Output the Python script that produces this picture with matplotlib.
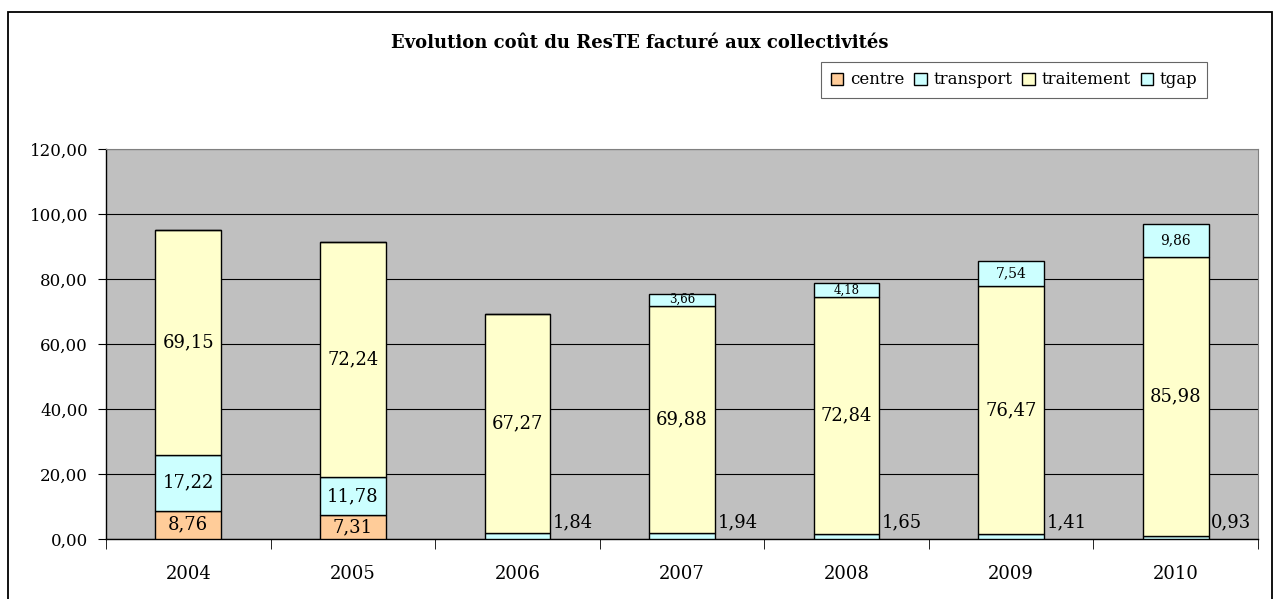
import matplotlib
matplotlib.use("Agg")
import matplotlib.pyplot as plt
from matplotlib.patches import Rectangle, Patch
import numpy as np

years = ["2004", "2005", "2006", "2007", "2008", "2009", "2010"]
centre = [8.76, 7.31, 0, 0, 0, 0, 0]
transport = [17.22, 11.78, 1.84, 1.94, 1.65, 1.41, 0.93]
traitement = [69.15, 72.24, 67.27, 69.88, 72.84, 76.47, 85.98]
tgap = [0, 0, 0, 3.66, 4.18, 7.54, 9.86]

series_names = ["centre", "transport", "traitement", "tgap"]
colors = ["#FFCC99", "#CCFFFF", "#FFFFCC", "#CCFFFF"]

plt.rcParams["font.family"] = ["DejaVu Serif"]

fig = plt.figure(figsize=(12.79, 5.99), dpi=100)
ax = fig.add_axes([106 / 1279, 1 - 539 / 599, 1152 / 1279, 390 / 599])
ax.set_facecolor("#C0C0C0")

# outer chart frame
fig.patches.append(Rectangle((8 / 1279, -0.1), 1264 / 1279, 1.1 - 12 / 599,
                             transform=fig.transFigure, fill=False,
                             edgecolor="black", linewidth=1.3))

x = np.arange(len(years))
width = 0.4
bottom = np.zeros(len(years))
all_series = [centre, transport, traitement, tgap]
for name, vals, col in zip(series_names, all_series, colors):
    vals = np.array(vals)
    ax.bar(x, vals, width, bottom=bottom, color=col, edgecolor="black",
           linewidth=1.0, label=name, zorder=3)
    for i, v in enumerate(vals):
        if v == 0:
            continue
        txt = f"{v:.2f}".replace(".", ",")
        if name == "transport" and v < 5:
            # small segments: label beside the bar
            ax.text(x[i] + width / 2 + 0.015, 5.0, txt,
                    ha="left", va="center", fontsize=13, zorder=4)
        elif name == "tgap":
            fs = 8.5 if v < 5 else 10
            ax.text(x[i], bottom[i] + v / 2, txt, ha="center", va="center",
                    fontsize=fs, zorder=4)
        else:
            ax.text(x[i], bottom[i] + v / 2, txt, ha="center", va="center",
                    fontsize=13, zorder=4)
    bottom += vals

ax.set_xlim(-0.5, len(years) - 0.5)
ax.set_ylim(0, 120)
yt = np.arange(0, 121, 20)
ax.set_yticks(yt)
ax.set_yticklabels([f"{v:.2f}".replace(".", ",") for v in yt], fontsize=12)
ax.yaxis.grid(True, color="black", linewidth=0.8, zorder=0)
ax.set_axisbelow(True)

ax.set_xticks(x)
ax.set_xticklabels(years, fontsize=13)
ax.tick_params(axis="x", length=0, pad=19)
ax.set_xticks(np.arange(-0.5, len(years)), minor=True)
ax.tick_params(axis="x", which="minor", length=7, direction="out", color="black")
ax.tick_params(axis="y", length=6, direction="out", pad=7)

for s in ["left", "bottom"]:
    ax.spines[s].set_color("black")
    ax.spines[s].set_linewidth(1.0)
for s in ["top", "right"]:
    ax.spines[s].set_color("#808080")
    ax.spines[s].set_linewidth(0.8)

fig.text(0.5, 1 - 43 / 599, "Evolution coût du ResTE facturé aux collectivités",
         ha="center", va="center", fontsize=13, fontweight="bold")

handles = [Patch(facecolor=c, edgecolor="black", label=n)
           for n, c in zip(series_names, colors)]
leg = fig.legend(handles=handles, loc="center", ncol=4,
                 bbox_to_anchor=(1014 / 1279, 1 - 80 / 599), fontsize=12,
                 frameon=True, fancybox=False, edgecolor="#404040",
                 handlelength=0.75, handleheight=0.75, handletextpad=0.4,
                 columnspacing=0.6, borderpad=0.55, borderaxespad=0)
leg.get_frame().set_linewidth(0.8)

fig.savefig("out.png", dpi=100, facecolor="white")
